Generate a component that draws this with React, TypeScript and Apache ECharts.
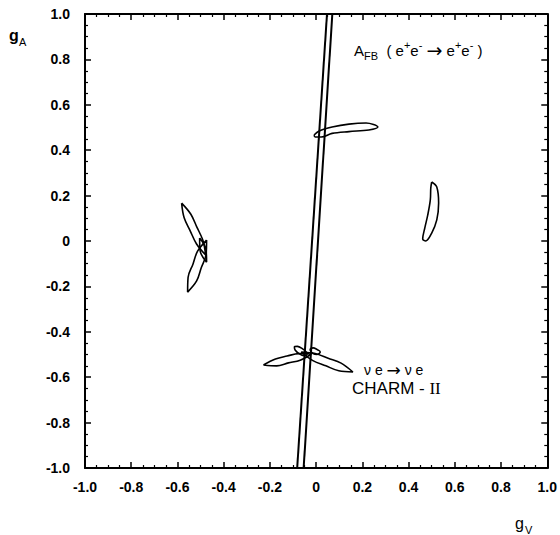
import React, { useEffect, useRef } from "react";
import * as echarts from "echarts";

// Axis ranges / ticks
const AXIS_MIN = -1.0;
const AXIS_MAX = 1.0;
const AXIS_STEP = 0.2;

// Narrow band from the nu-e cross-section (two lines), [gV, gA]
const bandLeft: number[][] = [[-0.082, -1.0], [0.047, 1.0]];
const bandRight: number[][] = [[-0.054, -1.0], [0.070, 1.0]];

// A_FB contour near (0.1, 0.5)
const contourTop: number[][] = [
  [-0.009, 0.467], [0.013, 0.485], [0.069, 0.502], [0.142, 0.515], [0.216, 0.520],
  [0.267, 0.502], [0.228, 0.489], [0.142, 0.482], [0.069, 0.474], [0.022, 0.458],
  [-0.004, 0.458], [-0.009, 0.467],
];

// contour near (0.5, 0.1)
const contourRight: number[][] = [
  [0.500, 0.260], [0.522, 0.238], [0.530, 0.167], [0.522, 0.093], [0.500, 0.035],
  [0.474, 0.000], [0.461, 0.009], [0.470, 0.057], [0.483, 0.115], [0.494, 0.181],
  [0.496, 0.233], [0.500, 0.260],
];

// contours near (-0.5, 0)
const contourLeftUpper: number[][] = [
  [-0.582, 0.167], [-0.542, 0.118], [-0.516, 0.061], [-0.490, 0.003], [-0.478, -0.062],
  [-0.518, -0.012], [-0.545, 0.045], [-0.571, 0.102], [-0.582, 0.167],
];
const contourLeftLower: number[][] = [
  [-0.474, 0.004], [-0.476, -0.059], [-0.497, -0.118], [-0.517, -0.176], [-0.556, -0.225],
  [-0.554, -0.160], [-0.533, -0.102], [-0.513, -0.045], [-0.474, 0.004],
];
const contourLeftSmall: number[][] = [
  [-0.504, 0.013], [-0.477, -0.036], [-0.474, -0.093], [-0.502, -0.043], [-0.504, 0.013],
];

// contours near (0, -0.5)
const contourBottomLeft: number[][] = [
  [-0.228, -0.546], [-0.176, -0.520], [-0.126, -0.507], [-0.075, -0.496], [-0.022, -0.498],
  [-0.069, -0.525], [-0.120, -0.537], [-0.171, -0.550], [-0.228, -0.546],
];
const contourBottomRight: number[][] = [
  [-0.065, -0.489], [-0.004, -0.496], [0.052, -0.517], [0.108, -0.538], [0.159, -0.577],
  [0.098, -0.572], [0.042, -0.550], [-0.014, -0.527], [-0.065, -0.489],
];
const contourBottomSmallA: number[][] = [
  [-0.039, -0.502], [-0.052, -0.505], [-0.074, -0.496], [-0.091, -0.480], [-0.094, -0.467],
  [-0.081, -0.464], [-0.060, -0.474], [-0.043, -0.489], [-0.039, -0.502],
];
const contourBottomSmallB: number[][] = [
  [0.017, -0.493], [0.004, -0.500], [-0.013, -0.496], [-0.026, -0.480], [-0.024, -0.474],
  [-0.013, -0.471], [0.004, -0.478], [0.017, -0.487], [0.017, -0.493],
];

const contours: number[][][] = [
  contourTop, contourRight, contourLeftUpper, contourLeftLower, contourLeftSmall,
  contourBottomLeft, contourBottomRight, contourBottomSmallA, contourBottomSmallB,
];

const FONT = "'Liberation Sans', Arial, Helvetica, sans-serif";
const ARROW_FONT = "'DejaVu Sans', sans-serif";

const fmt = (v: number) => (Math.abs(v) < 1e-9 ? "0" : v.toFixed(1));

function axisCommon(showLabel: boolean) {
  return {
    type: "value" as const,
    min: AXIS_MIN,
    max: AXIS_MAX,
    interval: AXIS_STEP,
    axisLine: { show: true, onZero: false, lineStyle: { color: "#000", width: 2 } },
    axisTick: { show: true, inside: true, length: 6, lineStyle: { color: "#000", width: 1.5 } },
    minorTick: { show: true, splitNumber: 4, length: 3, lineStyle: { color: "#000", width: 1.2 } },
    splitLine: { show: false },
    minorSplitLine: { show: false },
    axisLabel: {
      show: showLabel,
      formatter: fmt,
      color: "#000",
      fontSize: 14,
      fontWeight: "bold" as const,
      fontFamily: FONT,
    },
  };
}

export default function App() {
  const ref = useRef<HTMLDivElement>(null);

  useEffect(() => {
    if (!ref.current) return;
    const chart = echarts.init(ref.current, undefined, { renderer: "svg" });

    const series: any[] = [];
    [bandLeft, bandRight].forEach((b) => {
      series.push({
        type: "line",
        data: b,
        symbol: "none",
        lineStyle: { color: "#000", width: 2 },
        silent: true,
      });
    });
    contours.forEach((c) => {
      series.push({
        type: "line",
        data: c,
        symbol: "none",
        smooth: 0.35,
        lineStyle: { color: "#000", width: 1.6 },
        silent: true,
      });
    });

    const rl = 22;
    chart.setOption({
      animation: false,
      backgroundColor: "#fff",
      grid: { left: 85, right: 11, top: 14, bottom: 67 },
      xAxis: [
        { ...axisCommon(true), position: "bottom", axisLabel: { ...axisCommon(true).axisLabel, margin: 12 } },
        { ...axisCommon(false), position: "top" },
      ],
      yAxis: [
        { ...axisCommon(true), position: "left", axisLabel: { ...axisCommon(true).axisLabel, margin: 15 } },
        { ...axisCommon(false), position: "right" },
      ],
      series,
      graphic: [
        { type: "text", left: 9, top: 27, style: { text: "g", fontSize: 16, fontWeight: "bold", fontFamily: FONT, fill: "#000" } },
        { type: "text", left: 19, top: 36, style: { text: "A", fontSize: 11, fontFamily: FONT, fill: "#000" } },
        { type: "text", left: 515, top: 515, style: { text: "g", fontSize: 16, fontFamily: FONT, fill: "#000" } },
        { type: "text", left: 525, top: 524, style: { text: "V", fontSize: 11, fontFamily: FONT, fill: "#000" } },
        {
          type: "text",
          left: 354,
          top: 39,
          style: {
            text: "{a|A}{s|FB}{b|  ( e}{p|+}{b|e}{p|-}{b| }{r|→}{b| e}{p|+}{b|e}{p|-}{b| )}",
            fontFamily: FONT,
            fill: "#000",
            rich: {
              a: { fontSize: 15, fontFamily: FONT, lineHeight: rl, verticalAlign: "middle" },
              s: { fontSize: 11, fontFamily: FONT, lineHeight: rl, verticalAlign: "bottom" },
              b: { fontSize: 15, fontFamily: FONT, lineHeight: rl, verticalAlign: "middle" },
              p: { fontSize: 11, fontFamily: FONT, lineHeight: rl, verticalAlign: "top" },
              r: { fontSize: 19, fontFamily: ARROW_FONT, lineHeight: rl, verticalAlign: "middle" },
            },
          },
        },
        {
          type: "text",
          left: 364,
          top: 361,
          style: {
            text: "{n|ν e }{r|→}{n| ν e}",
            fontFamily: FONT,
            fill: "#000",
            rich: {
              n: { fontSize: 14, fontFamily: FONT, lineHeight: 16, verticalAlign: "middle" },
              r: { fontSize: 17, fontFamily: ARROW_FONT, lineHeight: 16, verticalAlign: "middle" },
            },
          },
        },
        {
          type: "text",
          left: 352,
          top: 380,
          style: {
            text: "{c|CHARM - }{i|II}",
            fontFamily: FONT,
            fill: "#000",
            rich: {
              c: { fontSize: 17, fontFamily: FONT, lineHeight: 18, verticalAlign: "middle" },
              i: { fontSize: 17, fontFamily: "'Liberation Serif', serif", lineHeight: 18, verticalAlign: "middle" },
            },
          },
        },
      ],
    });

    return () => chart.dispose();
  }, []);

  return (
    <div
      ref={ref}
      style={{ position: "fixed", left: 0, top: 0, width: 560, height: 535, background: "#fff" }}
    />
  );
}
